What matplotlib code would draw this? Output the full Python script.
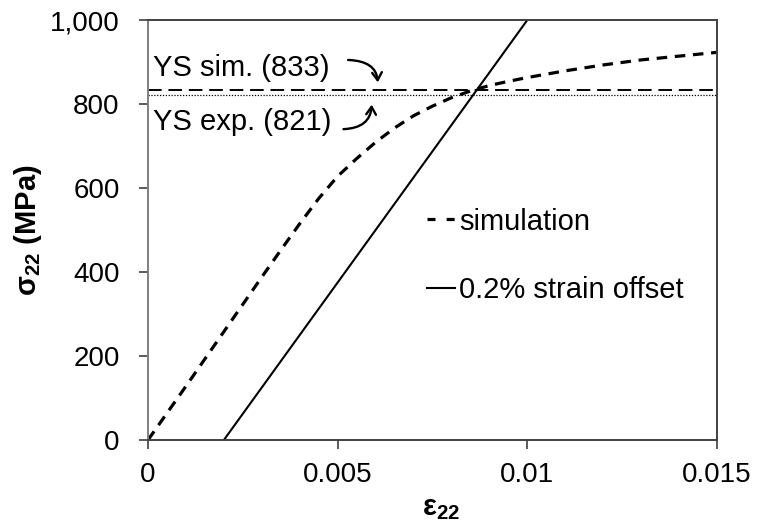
import matplotlib
matplotlib.use("Agg")
import matplotlib.pyplot as plt
from matplotlib.lines import Line2D
from matplotlib.ticker import FuncFormatter

# simulated stress-strain curve
eps_sim = [0.0, 0.001, 0.002, 0.003, 0.0035, 0.004, 0.0045, 0.005, 0.0055,
           0.006, 0.0065, 0.007, 0.0075, 0.008, 0.0085, 0.009, 0.0095,
           0.010, 0.011, 0.012, 0.013, 0.014, 0.015]
sig_sim = [0, 128, 258, 388, 452, 515, 575, 628, 670,
           709, 743, 772, 795, 815, 831, 844, 854,
           863, 879, 893, 905, 914, 923]

# 0.2% strain offset line
eps_off = [0.002, 0.010]
sig_off = [0, 1000]

# yield strengths
ys_sim = 833
ys_exp = 821

x_ticks = [0, 0.005, 0.01, 0.015]
x_tick_labels = ['0', '0.005', '0.01', '0.015']
y_ticks = [0, 200, 400, 600, 800, 1000]

plt.rcParams['font.family'] = ['Liberation Sans', 'DejaVu Sans']
plt.rcParams['mathtext.fontset'] = 'custom'
plt.rcParams['mathtext.rm'] = 'Liberation Sans'
plt.rcParams['mathtext.bf'] = 'Liberation Sans:bold'

fig = plt.figure(figsize=(7.57, 5.25), dpi=100)
ax = fig.add_axes([148 / 757, 1 - 440 / 525, (717 - 148) / 757, (440 - 20) / 525])

# curves
ax.plot(eps_sim, sig_sim, color='black', lw=2.3, dashes=(3.3, 2.4))
ax.plot(eps_off, sig_off, color='black', lw=1.5)
ax.axhline(ys_sim, color='black', lw=1.4, dashes=(7, 3.5))
ax.axhline(ys_exp, color='black', lw=0.9, dashes=(1, 1.3))

# annotations
ax.text(0.00013, 886, 'YS sim. (%d)' % ys_sim, fontsize=21, va='center', ha='left')
ax.text(0.00013, 757, 'YS exp. (%d)' % ys_exp, fontsize=21, va='center', ha='left')
ax.annotate('', xy=(0.00606, 845), xytext=(0.0052, 905),
            arrowprops=dict(arrowstyle='->,head_length=0.55,head_width=0.35',
                            connectionstyle='angle3,angleA=0,angleB=-90',
                            color='black', lw=1.7))
ax.annotate('', xy=(0.0059, 805), xytext=(0.00508, 740),
            arrowprops=dict(arrowstyle='->,head_length=0.55,head_width=0.35',
                            connectionstyle='angle3,angleA=0,angleB=90',
                            color='black', lw=1.7))

# legend
handles = [Line2D([], [], color='black', lw=2.3, dashes=(2.5, 3.5)),
           Line2D([], [], color='black', lw=1.5)]
ax.legend(handles, ['simulation', '0.2% strain offset'],
          loc='center left', bbox_to_anchor=(0.49, 0.438), frameon=False,
          fontsize=21, handlelength=0.95, handletextpad=0.15,
          labelspacing=1.4, borderpad=0, borderaxespad=0)

ax.set_xlim(0, 0.015)
ax.set_ylim(0, 1000)
ax.set_xticks(x_ticks)
ax.set_xticklabels(x_tick_labels)
ax.set_yticks(y_ticks)
ax.yaxis.set_major_formatter(FuncFormatter(lambda v, p: '{:,.0f}'.format(v)))
ax.tick_params(axis='both', labelsize=20, direction='out', length=6.5, width=1.2, colors='#404040')
ax.tick_params(axis='both', labelcolor='black')
ax.tick_params(axis='y', pad=14)
ax.tick_params(axis='x', pad=9)

for side in ['top', 'right', 'bottom']:
    ax.spines[side].set_color('#404040')
    ax.spines[side].set_linewidth(1.4)
ax.spines['left'].set_color('#808080')
ax.spines['left'].set_linewidth(1.4)

ax.set_xlabel(r'$\mathbf{ε_{22}}$', fontsize=21)
ax.xaxis.set_label_coords(0.515, -0.128)
ax.set_ylabel(r'$\mathbf{σ_{22}}$ (MPa)', fontsize=21, fontweight='bold')
ax.yaxis.set_label_coords(-0.183, 0.5)

fig.savefig('out.png', dpi=100)
